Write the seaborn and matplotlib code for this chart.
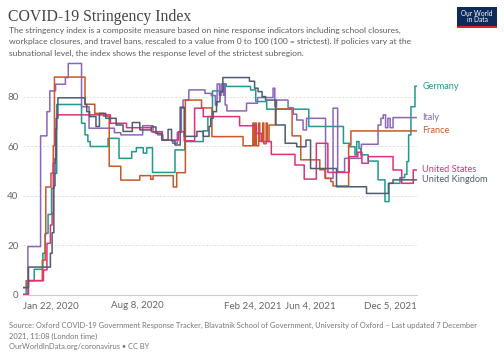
import pandas as pd
import matplotlib.pyplot as plt
from matplotlib.patches import Rectangle
import seaborn as sns

# Stringency index change points (value holds until the next date)
germany_dates = ['2020-01-22', '2020-01-28', '2020-02-11', '2020-02-26', '2020-03-01', '2020-03-06',
                 '2020-03-12', '2020-03-16', '2020-03-21', '2020-05-03', '2020-05-09', '2020-05-14',
                 '2020-05-18', '2020-06-18', '2020-07-07', '2020-07-29', '2020-08-06', '2020-08-18',
                 '2020-08-24', '2020-09-03', '2020-10-12', '2020-10-29', '2020-11-30', '2020-12-08',
                 '2020-12-16', '2021-01-06', '2021-01-09', '2021-02-20', '2021-03-01', '2021-03-20',
                 '2021-06-01', '2021-07-31', '2021-08-11', '2021-08-20', '2021-08-23', '2021-08-27',
                 '2021-08-30', '2021-09-12', '2021-09-29', '2021-10-11', '2021-10-18', '2021-11-06',
                 '2021-11-14', '2021-11-18', '2021-11-21', '2021-11-25', '2021-12-02']
germany_vals = [0, 5.6, 10.2, 16.7, 24.8, 32.4,
                43.0, 49.0, 76.9, 69.3, 64.6, 61.9,
                59.9, 63.2, 55.1, 57.8, 59.4, 57.2,
                59.4, 49.4, 58.5, 61.9, 66.2, 72.0,
                82.4, 85.2, 84.2, 82.8, 78.1, 75.0,
                68.0, 61.2, 59.8, 56.5, 61.9, 59.1,
                56.5, 54.0, 46.4, 37.6, 45.0, 47.3,
                48.6, 53.8, 64.6, 76.0, 84.3]

italy_dates = ['2020-01-22', '2020-01-31', '2020-02-22', '2020-03-04', '2020-03-09', '2020-03-19',
               '2020-04-05', '2020-04-10', '2020-05-03', '2020-05-16', '2020-06-29', '2020-07-10',
               '2020-08-17', '2020-09-04', '2020-09-12', '2020-09-21', '2020-10-08', '2020-10-16',
               '2020-10-23', '2020-10-26', '2020-11-05', '2020-12-03', '2020-12-14', '2020-12-21',
               '2020-12-24', '2020-12-28', '2020-12-31', '2021-01-04', '2021-01-05', '2021-01-07',
               '2021-01-10', '2021-02-13', '2021-03-04', '2021-03-31', '2021-04-03', '2021-04-06',
               '2021-04-26', '2021-05-05', '2021-05-11', '2021-05-22', '2021-05-28', '2021-06-30',
               '2021-07-13', '2021-07-21', '2021-08-02', '2021-08-31', '2021-09-29', '2021-10-04',
               '2021-10-08', '2021-10-12', '2021-10-16', '2021-10-20', '2021-10-25']
italy_vals = [0, 19.4, 64.2, 74.0, 82.4, 85.1,
              87.8, 93.5, 76.0, 67.3, 65.5, 64.6,
              68.3, 65.6, 64.6, 62.5, 61.2, 65.6,
              75.4, 78.7, 82.8, 81.4, 80.5, 76.7,
              85.2, 80.6, 85.2, 80.6, 85.2, 76.7,
              74.3, 77.4, 79.7, 83.5, 76.0, 78.7,
              75.6, 73.0, 70.6, 66.6, 71.3, 47.0,
              75.4, 49.7, 55.1, 60.8, 68.6, 71.3,
              72.7, 67.5, 71.3, 67.5, 71.6]

france_dates = ['2020-01-22', '2020-01-29', '2020-02-25', '2020-03-01', '2020-03-02', '2020-03-11',
                '2020-03-15', '2020-03-17', '2020-05-09', '2020-05-26', '2020-06-10', '2020-06-20',
                '2020-07-10', '2020-08-12', '2020-08-31', '2020-09-04', '2020-10-09', '2020-10-15',
                '2020-10-30', '2020-11-27', '2020-12-15', '2021-02-07', '2021-02-24', '2021-02-26',
                '2021-02-28', '2021-03-02', '2021-03-06', '2021-03-08', '2021-03-13', '2021-03-15',
                '2021-03-19', '2021-03-21', '2021-03-24', '2021-04-04', '2021-05-03', '2021-05-18',
                '2021-06-20', '2021-06-29', '2021-07-09', '2021-07-13', '2021-08-09', '2021-08-13']
france_vals = [2.8, 5.6, 13.9, 24.1, 43.5, 49.1,
               60.2, 88.0, 77.0, 73.3, 72.2, 51.9,
               46.3, 48.1, 46.6, 48.1, 43.5, 49.3,
               78.7, 75.5, 63.9, 60.2, 69.4, 60.2,
               69.4, 60.2, 69.4, 62.0, 69.4, 61.0,
               69.4, 62.0, 68.6, 75.1, 64.2, 54.5,
               50.5, 47.0, 45.7, 43.9, 60.5, 66.2]

us_dates = ['2020-01-22', '2020-02-01', '2020-02-27', '2020-03-04', '2020-03-10', '2020-03-13',
            '2020-03-15', '2020-03-19', '2020-03-21', '2020-06-22', '2020-07-20', '2020-09-01',
            '2020-09-20', '2020-10-18', '2020-10-28', '2020-11-15', '2020-11-30', '2021-02-01',
            '2021-03-02', '2021-03-11', '2021-03-28', '2021-05-08', '2021-05-24', '2021-06-14',
            '2021-07-04', '2021-08-10', '2021-08-25', '2021-09-01', '2021-09-12', '2021-10-25',
            '2021-11-09', '2021-11-29']
us_vals = [0, 5.6, 9.9, 20.7, 28.1, 32.9,
           53.1, 67.0, 72.7, 69.3, 67.5, 65.9,
           62.5, 65.9, 62.2, 75.4, 72.0, 68.3,
           65.2, 61.9, 56.7, 52.4, 46.7, 61.2,
           49.4, 55.8, 57.6, 53.1, 55.8, 50.4,
           45.0, 50.4]

uk_dates = ['2020-01-22', '2020-02-01', '2020-03-10', '2020-03-13', '2020-03-16', '2020-03-18',
            '2020-03-20', '2020-03-23', '2020-05-09', '2020-05-12', '2020-05-17', '2020-05-28',
            '2020-06-03', '2020-06-14', '2020-07-02', '2020-07-14', '2020-07-30', '2020-08-12',
            '2020-09-01', '2020-09-09', '2020-09-19', '2020-09-30', '2020-10-06', '2020-10-12',
            '2020-10-21', '2020-10-28', '2020-11-19', '2020-11-30', '2020-12-10', '2020-12-13',
            '2020-12-17', '2020-12-23', '2020-12-29', '2021-01-03', '2021-02-18', '2021-02-27',
            '2021-03-05', '2021-03-12', '2021-03-18', '2021-04-05', '2021-04-21', '2021-05-11',
            '2021-05-27', '2021-06-04', '2021-07-19', '2021-09-09', '2021-10-17', '2021-10-25']
uk_vals = [2.8, 11.1, 16.7, 25.0, 44.0, 55.0,
           71.3, 79.6, 76.9, 74.0, 72.0, 68.0,
           73.3, 71.3, 68.6, 66.0, 69.6, 66.6,
           67.8, 65.2, 62.5, 66.8, 62.2, 60.5,
           75.8, 64.0, 66.0, 64.0, 68.0, 71.3,
           74.0, 78.0, 82.0, 87.8, 86.3, 83.5,
           82.1, 80.1, 78.7, 68.6, 61.2, 59.8,
           62.5, 51.0, 43.6, 40.9, 45.0, 46.4]

countries = ['Germany', 'Italy', 'France', 'United States', 'United Kingdom']
colors = {'Germany': '#1f9a8c', 'Italy': '#8b66b8', 'France': '#c8582a',
          'United States': '#e0307b', 'United Kingdom': '#4f5b70'}
x_ticks = ['2020-01-22', '2020-08-08', '2021-02-24', '2021-06-04', '2021-12-05']
x_labels = ['Jan 22, 2020', 'Aug 8, 2020', 'Feb 24, 2021', 'Jun 4, 2021', 'Dec 5, 2021']

days = pd.date_range('2020-01-22', '2021-12-05', freq='D')
series = {'Germany': (germany_dates, germany_vals), 'Italy': (italy_dates, italy_vals),
          'France': (france_dates, france_vals), 'United States': (us_dates, us_vals),
          'United Kingdom': (uk_dates, uk_vals)}

frames = []
for name in countries:
    d, v = series[name]
    s = pd.Series(v, index=pd.to_datetime(d)).reindex(days, method='ffill')
    frames.append(pd.DataFrame({'date': days, 'value': s.values, 'country': name}))
df = pd.concat(frames, ignore_index=True)

sns.set_style('white')
plt.rcParams['font.family'] = ['Lato', 'DejaVu Sans']

fig = plt.figure(figsize=(5.04, 3.56), dpi=100)
ax = fig.add_axes([22.7 / 504, 1 - 294.5 / 356, 394 / 504, 233.5 / 356])

sns.lineplot(data=df, x='date', y='value', hue='country', hue_order=countries,
             palette=colors, estimator=None, drawstyle='steps-post', linewidth=1.1,
             legend=False, ax=ax)

ax.set_xlim(pd.Timestamp('2020-01-22'), pd.Timestamp('2021-12-05'))
ax.set_ylim(0, 94.5)
ax.set_xlabel('')
ax.set_ylabel('')
for sp in ['top', 'right', 'left']:
    ax.spines[sp].set_visible(False)
ax.spines['bottom'].set_color('#cccccc')
ax.spines['bottom'].set_linewidth(0.8)

ax.set_yticks([0, 20, 40, 60, 80])
ax.tick_params(axis='y', length=0, pad=3, labelsize=7, labelcolor='#666666')
ax.yaxis.grid(True, color='#dddddd', linestyle=(0, (2, 2)), linewidth=0.7)
ax.set_axisbelow(True)

ax.set_xticks(pd.to_datetime(x_ticks))
ax.set_xticklabels(x_labels)
ax.tick_params(axis='x', length=3, width=0.7, color='#cccccc', pad=2, labelsize=7, labelcolor='#666666')
tl = ax.get_xticklabels()
tl[0].set_ha('left')
tl[-1].set_ha('right')
ax.xaxis.get_major_ticks()[0].tick1line.set_visible(False)

# end-of-line labels
for name in countries:
    last = df[df['country'] == name].iloc[-1]
    ax.annotate(name, xy=(last['date'], last['value']), xytext=(4, 0), textcoords='offset points',
                va='center', ha='left', fontsize=6.6, color=colors[name], annotation_clip=False)

# header
fig.text(8 / 504, 1 - 20.7 / 356, 'COVID-19 Stringency Index', family='Liberation Serif',
         fontsize=11.3, color='#444444', va='baseline')
sub = ['The stringency index is a composite measure based on nine response indicators including school closures,',
       'workplace closures, and travel bans, rescaled to a value from 0 to 100 (100 = strictest). If policies vary at the',
       'subnational level, the index shows the response level of the strictest subregion.']
for i, line in enumerate(sub):
    fig.text(9 / 504, 1 - (33 + 11.3 * i) / 356, line, fontsize=6.1, color='#5b5b5b', va='baseline')

# logo
fig.patches.append(Rectangle((457 / 504, 1 - 28 / 356), 40 / 504, 21 / 356, transform=fig.transFigure,
                             facecolor='#0c2a5a', edgecolor='none'))
fig.patches.append(Rectangle((457 / 504, 1 - 28 / 356), 40 / 504, 2 / 356, transform=fig.transFigure,
                             facecolor='#d42b21', edgecolor='none'))
fig.text(477 / 504, 1 - 16.5 / 356, 'Our World\nin Data', ha='center', va='center', fontsize=4.8,
         color='white', linespacing=1.0)

# footer
foot = ['Source: Oxford COVID-19 Government Response Tracker, Blavatnik School of Government, University of Oxford \u2013 Last updated 7 December',
        '2021, 11:08 (London time)',
        'OurWorldInData.org/coronavirus \u2022 CC BY']
for i, line in enumerate(foot):
    fig.text(9 / 504, 1 - (328 + 10.5 * i) / 356, line, fontsize=5.4, color='#777777', va='baseline')

fig.savefig('out.png', dpi=100)
